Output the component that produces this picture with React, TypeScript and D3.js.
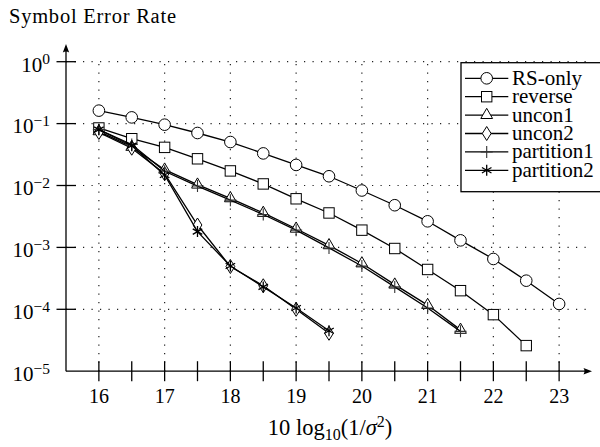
import React from "react";
import * as d3 from "d3";

// SNR grid (dB) shared by all curves
const snr = [16, 16.5, 17, 17.5, 18, 18.5, 19, 19.5, 20, 20.5, 21, 21.5, 22, 22.5, 23];

const rsOnly = [0.162, 0.126, 0.096, 0.0705, 0.0504, 0.033, 0.0215, 0.0141, 0.0083, 0.0048, 0.00264, 0.0013, 0.00065, 0.00029, 0.000122];
const reverse = [0.085, 0.057, 0.0413, 0.027, 0.0172, 0.0106, 0.0061, 0.0036, 0.0019, 0.00096, 0.00044, 0.0002, 0.000082, 0.0000259];
const uncon1 = [0.075, 0.042, 0.018, 0.0103, 0.0062, 0.0036, 0.002, 0.00108, 0.00055, 0.00025, 0.000117, 0.0000465];
const uncon2 = [0.072, 0.04, 0.0155, 0.0023, 0.00049, 0.00024, 0.0001, 0.000041];
const partition1 = [0.08, 0.046, 0.017, 0.0098, 0.0058, 0.0034, 0.0019, 0.00098, 0.0005, 0.00023, 0.000105, 0.000044];
const partition2 = [0.08, 0.044, 0.0148, 0.0018, 0.0005, 0.00023, 0.000105, 0.000045];

const seriesNames = ["RS-only", "reverse", "uncon1", "uncon2", "partition1", "partition2"];
const seriesMarks = ["circle", "square", "triangle", "diamond", "plus", "asterisk"];
const seriesValues = [rsOnly, reverse, uncon1, uncon2, partition1, partition2];

const xTicks = [16, 17, 18, 19, 20, 21, 22, 23];
const xMinorTicks = [16.5, 17.5, 18.5, 19.5, 20.5, 21.5, 22.5];
const yExps = [0, -1, -2, -3, -4, -5];

const W = 600, H = 447;
const FONT = "Liberation Serif";

const x = d3.scaleLinear().domain([15.5, 23.5]).range([66, 592]);
const y = d3.scaleLog().domain([1e-5, 1]).range([371.2, 61.7]);

function Marker({ type, cx, cy }: { type: string; cx: number; cy: number }) {
  const st = { fill: "#fff", stroke: "#000", strokeWidth: 1 };
  if (type === "circle") return <circle cx={cx} cy={cy} r={5.8} {...st} />;
  if (type === "square") return <rect x={cx - 5.2} y={cy - 5.2} width={10.4} height={10.4} {...st} />;
  if (type === "triangle") {
    const r = 6.8;
    return <path d={`M${cx},${cy - r}L${cx + 0.866 * r},${cy + r / 2}L${cx - 0.866 * r},${cy + r / 2}Z`} {...st} />;
  }
  if (type === "diamond") {
    return <path d={`M${cx},${cy - 7}L${cx + 4.4},${cy}L${cx},${cy + 7}L${cx - 4.4},${cy}Z`} {...st} />;
  }
  if (type === "plus") {
    return <path d={`M${cx - 6},${cy}H${cx + 6}M${cx},${cy - 6}V${cy + 6}`} stroke="#333" strokeWidth={1.1} fill="none" />;
  }
  // asterisk: three strokes
  const a = 5.5;
  const segs = [90, 30, 150].map((deg) => {
    const t = (deg * Math.PI) / 180;
    const dx = a * Math.cos(t), dy = a * Math.sin(t);
    return `M${cx - dx},${cy + dy}L${cx + dx},${cy - dy}`;
  });
  return <path d={segs.join("")} stroke="#000" strokeWidth={1.3} fill="none" />;
}

export default function App() {
  const line = d3.line<[number, number]>().x((d) => x(d[0])).y((d) => y(d[1]));
  const x0 = x(15.5), x1 = x(23.5), yb = y(1e-5), yt = y(1);

  return (
    <svg width={W} height={H} fontFamily={FONT} style={{ position: "absolute", left: 0, top: 0, background: "#fff" }}>
      {/* grid */}
      <g stroke="#222" strokeWidth={1.2} strokeDasharray="1.2 7.3" fill="none">
        {yExps.slice(0, 5).map((e) => (
          <line key={"h" + e} x1={x0} x2={x1} y1={y(Math.pow(10, e))} y2={y(Math.pow(10, e))} />
        ))}
        {xTicks.map((t) => (
          <line key={"v" + t} x1={x(t)} x2={x(t)} y1={yb} y2={yt} />
        ))}
      </g>

      {/* axes */}
      <g stroke="#000" strokeWidth={1.3} fill="none">
        <line x1={x0} y1={yb} x2={x0} y2={47} />
        <line x1={x0} y1={yb} x2={x1 - 3} y2={yb} />
        {yExps.slice(0, 5).map((e) => (
          <line key={"yt" + e} x1={56.5} x2={76} y1={y(Math.pow(10, e))} y2={y(Math.pow(10, e))} />
        ))}
        {xTicks.concat(xMinorTicks).map((t) => (
          <line key={"xt" + t} x1={x(t)} x2={x(t)} y1={yb - 10} y2={yb + 10} />
        ))}
      </g>
      <path d={`M${x0},44L${x0 - 3.2},52.5Q${x0},50.5 ${x0 + 3.2},52.5Z`} fill="#000" />
      <path d={`M${x1},${yb}L${x1 - 8.5},${yb - 3.2}Q${x1 - 6.5},${yb} ${x1 - 8.5},${yb + 3.2}Z`} fill="#000" />

      {/* tick labels */}
      <g fill="#000">
        {yExps.map((e) => (
          <text key={"yl" + e} x={50} y={y(Math.pow(10, e)) + 9.8} textAnchor="end" fontSize={21}>
            10<tspan fontSize={15.5} dy={-7.5}>{e === 0 ? "0" : "\u2212" + Math.abs(e)}</tspan>
          </text>
        ))}
        {xTicks.map((t) => (
          <text key={"xl" + t} x={x(t)} y={403} textAnchor="middle" fontSize={20}>{t}</text>
        ))}
      </g>

      <text x={9} y={22.7} fontSize={20.5} textLength={167} lengthAdjust="spacing">Symbol Error Rate</text>
      <text x={330} y={435} fontSize={22.5} textAnchor="middle">
        10 log<tspan fontSize={16} dy={5}>10</tspan>
        <tspan dy={-5}>(1/</tspan>
        <tspan fontStyle="italic">σ</tspan>
        <tspan fontSize={16} dy={-8}>2</tspan>
        <tspan dy={8}>)</tspan>
      </text>

      {/* series */}
      {seriesValues.map((vals, i) => {
        const pts = vals.map((v, j) => [snr[j], v] as [number, number]);
        return (
          <g key={seriesNames[i]}>
            <path d={line(pts) || ""} fill="none" stroke="#000" strokeWidth={1.3} />
            {pts.map((p, j) => (
              <Marker key={j} type={seriesMarks[i]} cx={x(p[0])} cy={y(p[1])} />
            ))}
          </g>
        );
      })}

      {/* legend */}
      <g>
        <rect x={461} y={62.7} width={145} height={129} fill="#fff" stroke="#000" strokeWidth={1.3} />
        {seriesNames.map((n, i) => {
          const ly = 78.3 + i * 18.4;
          return (
            <g key={"lg" + n}>
              <line x1={465} x2={508.3} y1={ly} y2={ly} stroke="#000" strokeWidth={1.3} />
              <Marker type={seriesMarks[i]} cx={486.7} cy={ly} />
              <text x={512} y={ly + 6.5} fontSize={21}>{n}</text>
            </g>
          );
        })}
      </g>
    </svg>
  );
}
